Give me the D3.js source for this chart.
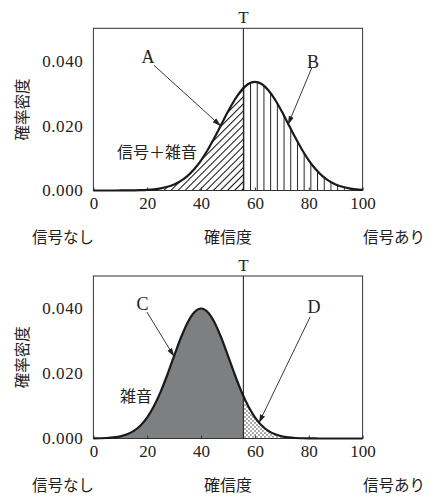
<!DOCTYPE html>
<html><head><meta charset="utf-8">
<script src="https://cdn.jsdelivr.net/npm/d3@7"></script>
<style>
html,body{margin:0;padding:0;background:#fff;}
svg{display:block;}
</style></head>
<body>
<svg id="chart" width="439" height="500"></svg>
<script>
// ---- data ----
const confidence = [0,2.5,5,7.5,10,12.5,15,17.5,20,22.5,25,27.5,30,32.5,35,37.5,40,42.5,45,47.5,50,52.5,55,57.5,60,62.5,65,67.5,70,72.5,75,77.5,80,82.5,85,87.5,90,92.5,95,97.5,100];
const signalNoise = [0,0,0,0,0.00001,0.00002,0.00005,0.00010,0.00020,0.00037,0.00066,0.00114,0.00188,0.00298,0.00453,0.00663,0.00931,0.01257,0.01631,0.02032,0.02433,0.02798,0.03092,0.03284,0.03350,0.03284,0.03092,0.02798,0.02433,0.02032,0.01631,0.01257,0.00931,0.00663,0.00453,0.00298,0.00188,0.00114,0.00066,0.00037,0.00020];
const noiseOnly = [0.00003,0.00007,0.00015,0.00033,0.00067,0.00130,0.00235,0.00403,0.00652,0.00998,0.01442,0.01969,0.02542,0.03099,0.03571,0.03888,0.04000,0.03888,0.03571,0.03099,0.02542,0.01969,0.01442,0.00998,0.00652,0.00403,0.00235,0.00130,0.00067,0.00033,0.00015,0.00007,0.00003,0.00001,0,0,0,0,0,0,0];
const threshold = 55.7;
const xTicks = [0,20,40,60,80,100];
const yTicks = [0,0.02,0.04];
const xTickLabels = ["0","20","40","60","80","100"];
const yTickLabels = ["0.000","0.020","0.040"];
const yTitle = "確率密度";
const xTitle = "確信度";
const leftLabel = "信号なし";
const rightLabel = "信号あり";
const panels = [
  {name:"信号＋雑音", values:signalNoise, leftLetter:"A", rightLetter:"B", leftFill:"url(#diag)", rightFill:"url(#vert)"},
  {name:"雑音", values:noiseOnly, leftLetter:"C", rightLetter:"D", leftFill:"#7e7f81", rightFill:"url(#dots)"}
];

const SERIF = '"Liberation Serif","DejaVu Serif",serif';
const JP = '"Noto Sans CJK JP",sans-serif';

const svg = d3.select("#chart");
const defs = svg.append("defs");
const x = d3.scaleLinear().domain([0,100]).range([93.4,362.6]);

// patterns
const pd = defs.append("pattern").attr("id","diag").attr("patternUnits","userSpaceOnUse")
  .attr("width",5).attr("height",5).attr("patternTransform","rotate(45)");
pd.append("line").attr("x1",0.5).attr("y1",0).attr("x2",0.5).attr("y2",5).attr("stroke","#111").attr("stroke-width",1.05);
const pv = defs.append("pattern").attr("id","vert").attr("patternUnits","userSpaceOnUse")
  .attr("x",x(threshold)).attr("y",0).attr("width",6.7).attr("height",10);
pv.append("line").attr("x1",0.5).attr("y1",0).attr("x2",0.5).attr("y2",10).attr("stroke","#222").attr("stroke-width",1);
const pdots = defs.append("pattern").attr("id","dots").attr("patternUnits","userSpaceOnUse")
  .attr("width",4).attr("height",4);
pdots.append("circle").attr("cx",1).attr("cy",1).attr("r",0.65).attr("fill","#111");
pdots.append("circle").attr("cx",3).attr("cy",3).attr("r",0.65).attr("fill","#111");

const mk = defs.append("marker").attr("id","arr").attr("markerUnits","userSpaceOnUse")
  .attr("viewBox","0 -4 9 8").attr("refX",8.5).attr("refY",0)
  .attr("markerWidth",9).attr("markerHeight",8).attr("orient","auto");
mk.append("path").attr("d","M0,-2.6L9,0L0,2.6Z").attr("fill","#222");

const layouts = [
  {y0:190.5, y1:28.3, name:[157,152], lA:[148,63], lB:[313,67.5],
   arrA:[[22.5,0.0386],[47.3,0.0199]], arrB:[[81.1,0.0378],[72.3,0.0203]]},
  {y0:438.5, y1:276, name:[136,396], lA:[142.5,310], lB:[314,313],
   arrA:[[19.9,0.0389],[30.0,0.0252]], arrB:[[80.5,0.0374],[61.5,0.0048]]}
];

function txt(g, str, px, py, opts){
  const t = g.append("text").attr("x",px).attr("y",py).text(str)
    .style("font-family", opts.serif ? SERIF : JP)
    .style("font-size", opts.size + "px").style("fill","#222");
  if (opts.anchor) t.attr("text-anchor", opts.anchor);
  if (opts.dy) t.attr("dy", opts.dy);
  if (opts.transform) t.attr("transform", opts.transform);
  return t;
}

panels.forEach((p,i)=>{
  const L = layouts[i];
  const y = d3.scaleLinear().domain([0,0.05]).range([L.y0,L.y1]);
  const g = svg.append("g");
  const pts = confidence.map((c,k)=>({c, v:p.values[k]}));

  const cl = defs.append("clipPath").attr("id","cl"+i);
  cl.append("rect").attr("x",x(0)).attr("y",L.y1).attr("width",x(threshold)-x(0)).attr("height",L.y0-L.y1);
  const cr = defs.append("clipPath").attr("id","cr"+i);
  cr.append("rect").attr("x",x(threshold)).attr("y",L.y1).attr("width",x(100)-x(threshold)).attr("height",L.y0-L.y1);

  const area = d3.area().x(d=>x(d.c)).y0(y(0)).y1(d=>y(d.v)).curve(d3.curveMonotoneX);
  const line = d3.line().x(d=>x(d.c)).y(d=>y(d.v)).curve(d3.curveMonotoneX);

  g.append("path").datum(pts).attr("d",area).attr("fill",p.leftFill).attr("clip-path",`url(#cl${i})`);
  g.append("path").datum(pts).attr("d",area).attr("fill",p.rightFill).attr("clip-path",`url(#cr${i})`);

  // frame
  g.append("rect").attr("x",x(0)).attr("y",L.y1).attr("width",x(100)-x(0)).attr("height",L.y0-L.y1)
    .attr("fill","none").attr("stroke","#333").attr("stroke-width",1);

  // x axis
  const xa = g.append("g").attr("transform",`translate(0,${y(0)})`)
    .call(d3.axisBottom(x).tickValues(xTicks).tickFormat((d,k)=>xTickLabels[k]).tickSize(-3).tickSizeOuter(0));
  xa.attr("font-family",null).attr("font-size",null);
  xa.select(".domain").remove();
  xa.selectAll(".tick line").attr("stroke","#333");
  xa.selectAll("text").attr("y",6).style("font-family",SERIF).style("font-size","17px").style("fill","#222");
  // y axis
  const ya = g.append("g").attr("transform",`translate(${x(0)},0)`)
    .call(d3.axisLeft(y).tickValues(yTicks).tickFormat((d,k)=>yTickLabels[k]).tickSize(0).tickPadding(10));
  ya.attr("font-family",null).attr("font-size",null);
  ya.select(".domain").remove();
  ya.selectAll("text").style("font-family",SERIF).style("font-size","17px").style("letter-spacing","0.6px").style("fill","#222");

  // curve
  g.append("path").datum(pts).attr("d",line).attr("fill","none").attr("stroke","#1a1a1a").attr("stroke-width",2.2);

  // threshold line
  g.append("line").attr("x1",x(threshold)).attr("x2",x(threshold)).attr("y1",L.y1).attr("y2",y(0))
    .attr("stroke","#111").attr("stroke-width",1);
  txt(g,"T",x(threshold),L.y1-5,{serif:true,size:17,anchor:"middle"});

  // arrows + letters
  [L.arrA,L.arrB].forEach(a=>{
    g.append("line").attr("x1",x(a[0][0])).attr("y1",y(a[0][1])).attr("x2",x(a[1][0])).attr("y2",y(a[1][1]))
      .attr("stroke","#222").attr("stroke-width",0.9).attr("marker-end","url(#arr)");
  });
  txt(g,p.leftLetter,L.lA[0],L.lA[1],{serif:true,size:18,anchor:"middle"});
  txt(g,p.rightLetter,L.lB[0],L.lB[1],{serif:true,size:18,anchor:"middle"});

  txt(g,p.name,L.name[0],L.name[1],{size:16,anchor:"middle",dy:"0.36em"});

  // titles
  const ty = L.y0 + 47;
  txt(g,leftLabel,32,ty,{size:15.5,dy:"0.36em"});
  txt(g,xTitle,228,ty,{size:16,anchor:"middle",dy:"0.36em"});
  txt(g,rightLabel,425,ty,{size:15.5,anchor:"end",dy:"0.36em"});
  txt(g,yTitle,0,0,{size:15.5,anchor:"middle",dy:"0.36em",transform:`translate(22,${(L.y0+L.y1)/2}) rotate(-90)`});
});
</script>
</body></html>
